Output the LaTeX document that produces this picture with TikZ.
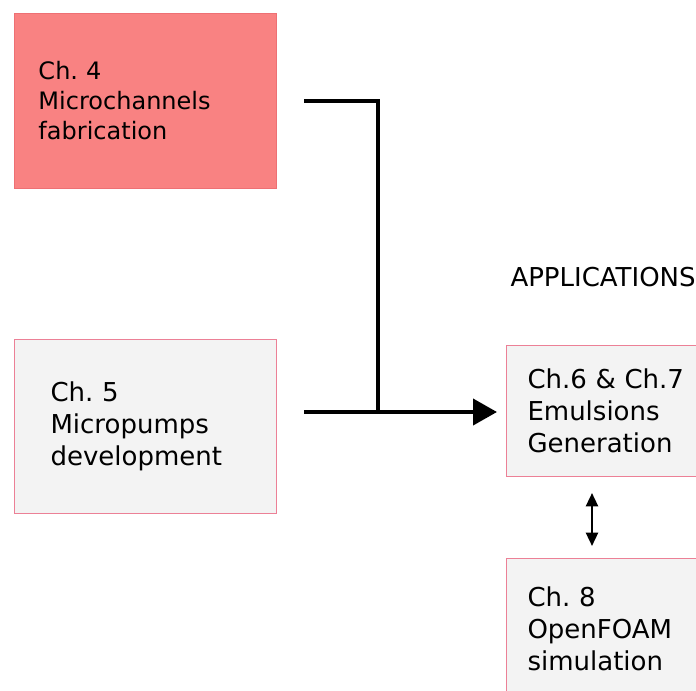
\documentclass[tikz,border=0pt]{standalone}
\usepackage{fontspec}
\setmainfont{DejaVu Sans}
\usetikzlibrary{arrows.meta}

\definecolor{chred}{RGB}{249,130,130}
\definecolor{chredline}{RGB}{238,112,116}
\definecolor{chgrey}{RGB}{243,243,243}
\definecolor{chpink}{RGB}{236,128,150}

\tikzset{every picture/.style={line width=0.75pt}}
\tikzset{
	chbox/.style={anchor=north west, align=left, inner ysep=0pt},
	smalltxt/.style={font=\fontsize{18}{22.5}\selectfont},
	bigtxt/.style={font=\fontsize{19.5}{24}\selectfont},
	flow/.style={line width=3pt},
}
\frenchspacing

\begin{document}
\begin{tikzpicture}[x=0.75pt,y=0.75pt,yscale=-1,xscale=1]
			\path [use as bounding box] (0,0) rectangle (696,690);
			
			%Boxes
			\node [chbox, smalltxt, fill=chred, draw=chredline, text width=160.5pt, inner xsep=18pt, minimum height=131.25pt] (ch4) at (14,13) {Ch. 4\\Microchannels\\fabrication};
			
			\node [chbox, bigtxt, fill=chgrey, draw=chpink, text width=142.5pt, inner xsep=27pt, minimum height=130.5pt] (ch5) at (14,339) {Ch. 5\\Micropumps\\development};
			
			\node [chbox, bigtxt, fill=chgrey, draw=chpink, text width=127.5pt, inner xsep=15.75pt, minimum height=98.25pt] (ch67) at (506,345) {Ch.6 \& Ch.7\\Emulsions\\Generation};
			
			\node [chbox, bigtxt, fill=chgrey, draw=chpink, text width=127.5pt, inner xsep=15.75pt, minimum height=105pt] (ch8) at (506,558) {Ch. 8\\OpenFOAM\\simulation};
			
			\node [anchor=base west, inner sep=0pt, bigtxt] (apps) at (510,286) {APPLICATIONS};
			
			%Connectors
			\coordinate (out4) at (304,101);
			\coordinate (out5) at (304,412);
			\coordinate (join) at (378,412);
			\coordinate (dtop) at (592,493);
			\coordinate (dbot) at (592,546);
			
			\draw [flow]  (out4) -| (join) ;
			\draw [flow, -{Triangle[length=18pt,width=19.5pt]}, shorten >=6.75pt]  (out5) -- (ch67.west |- out5) ;
			\draw [line width=1.75pt, {Triangle[length=10pt,width=9pt]}-{Triangle[length=10pt,width=9pt]}]  (dtop) -- (dbot) ;
			
\end{tikzpicture}
\end{document}
